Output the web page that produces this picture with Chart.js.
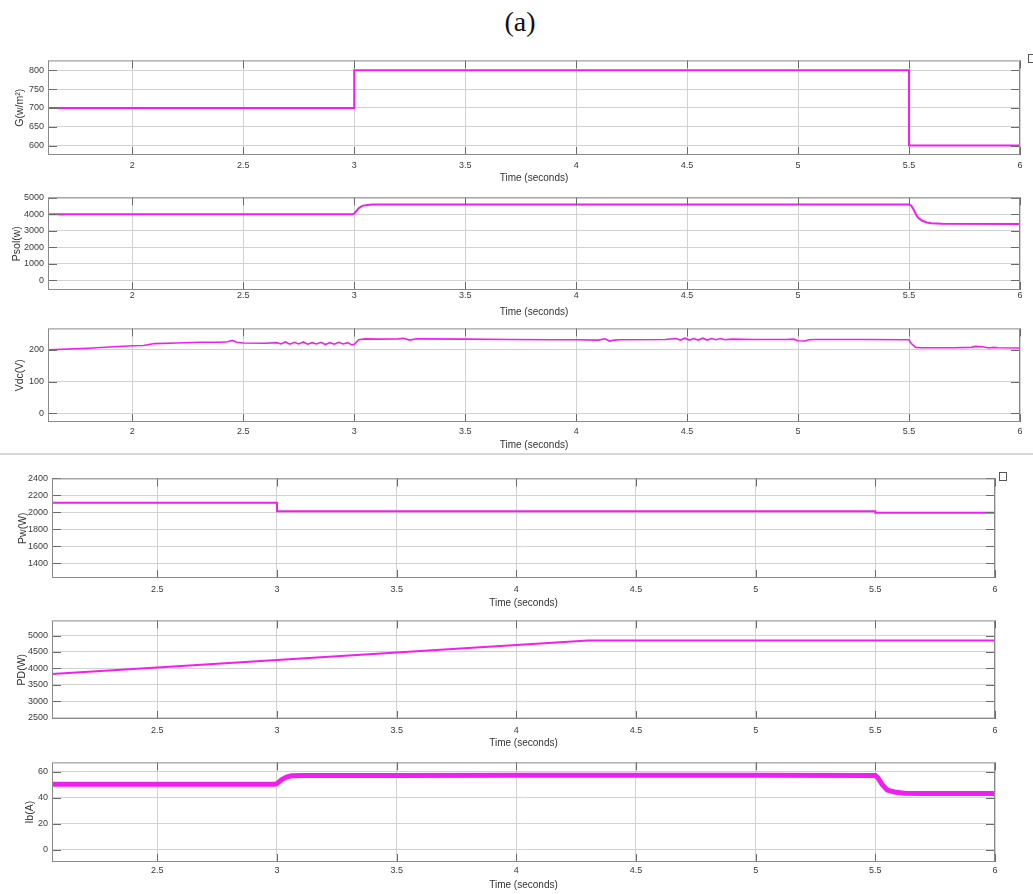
<!DOCTYPE html>
<html>
<head>
<meta charset="utf-8">
<script src="https://cdn.jsdelivr.net/npm/chart.js@4.4.0/dist/chart.umd.min.js"></script>
<style>
body { margin: 0; background: #fff; width: 1033px; height: 894px; overflow: hidden; position: relative; }
.fig-title { position: absolute; left: 0; width: 1040px; top: 6px; text-align: center;
  font-family: "Liberation Serif", "Times New Roman", serif; font-size: 28px; color: #111; }
.sep { position: absolute; left: 0; width: 1033px; top: 453px; height: 2px; background: #d6d6d6; }
.ico { position: absolute; width: 6px; height: 7px; border: 1px solid #555; background: #fff; }
canvas { position: absolute; }
</style>
</head>
<body>
<div class="fig-title">(a)</div>
<div class="sep"></div>
<canvas id="c1"></canvas>
<canvas id="c2"></canvas>
<canvas id="c3"></canvas>
<canvas id="c4"></canvas>
<canvas id="c5"></canvas>
<canvas id="c6"></canvas>
<div class="ico" style="left:1028px;top:54px"></div>
<div class="ico" style="left:999px;top:472px"></div>
<script>
// data (time in seconds)
const gTime = [1.62, 3.0, 3.0, 5.5, 5.5, 6.0];
const gVals = [700, 700, 800, 800, 600, 600];

const psolTime = [1.62, 2.99, 3.0, 3.01, 3.02, 3.03, 3.04, 3.06, 3.08, 3.1, 5.5, 5.51, 5.52, 5.53, 5.54, 5.56, 5.58, 5.6, 5.65, 6.0];
const psolVals = [4000, 4000, 4030, 4200, 4360, 4460, 4520, 4565, 4585, 4595, 4595, 4520, 4300, 4020, 3800, 3600, 3500, 3450, 3420, 3410];

const vdcTime = [1.62, 1.8, 1.9, 2.0, 2.05, 2.1, 2.2, 2.3, 2.4, 2.43, 2.45, 2.47, 2.5, 2.6, 2.65, 2.67, 2.69, 2.71, 2.73, 2.75, 2.77, 2.79, 2.81, 2.83, 2.85, 2.87, 2.89, 2.91, 2.93, 2.95, 2.97, 2.99, 3.0, 3.02, 3.05, 3.1, 3.2, 3.22, 3.25, 3.28, 3.3, 3.5, 3.7, 3.9, 4.0, 4.1, 4.13, 4.15, 4.17, 4.2, 4.4, 4.45, 4.47, 4.49, 4.51, 4.53, 4.55, 4.57, 4.59, 4.61, 4.63, 4.65, 4.67, 4.7, 4.8, 4.95, 4.98, 5.0, 5.03, 5.05, 5.08, 5.1, 5.3, 5.5, 5.51, 5.53, 5.55, 5.7, 5.78, 5.8, 5.83, 5.86, 5.88, 5.9, 6.0];
const vdcVals = [200, 205, 209, 213, 214, 220, 222, 224, 224, 226, 230, 224, 222, 221, 223, 219, 225, 218, 224, 219, 225, 218, 223, 219, 224, 217, 223, 218, 224, 219, 223, 216, 218, 232, 235, 234, 235, 237, 231, 235, 235, 234, 233, 232, 232, 231, 235, 228, 231, 232, 233, 236, 231, 237, 231, 236, 231, 237, 231, 236, 232, 236, 232, 234, 233, 233, 234, 229, 228, 232, 233, 233, 233, 232, 220, 208, 207, 207, 208, 211, 210, 206, 208, 207, 206];

const pwTime = [2.06, 3.0, 3.0, 5.5, 5.5, 6.0];
const pwVals = [2112, 2112, 2012, 2012, 1996, 1996];

const pdTime = [2.06, 2.5, 3.0, 3.5, 4.0, 4.3, 6.0];
const pdVals = [3830, 4030, 4255, 4480, 4710, 4850, 4850];

const ibTime = [2.06, 2.5, 2.99, 3.0, 3.02, 3.04, 3.06, 3.1, 3.5, 4.0, 5.0, 5.5, 5.51, 5.53, 5.55, 5.58, 5.62, 5.7, 6.0];
const ibVals = [50.5, 50.5, 50.5, 51, 54, 56, 57, 57.3, 57.3, 57.5, 57.4, 57.3, 55.5, 50, 46, 44.5, 43.6, 43.3, 43.3];

// tick labels
const timeTicks = [2, 2.5, 3, 3.5, 4, 4.5, 5, 5.5, 6];
const gTicks = [600, 650, 700, 750, 800];
const psolTicks = [0, 1000, 2000, 3000, 4000, 5000];
const vdcTicks = [0, 100, 200];
const pwTicks = [1400, 1600, 1800, 2000, 2200, 2400];
const pdTicks = [2500, 3000, 3500, 4000, 4500, 5000];
const ibTicks = [0, 20, 40, 60];

// per-panel layout: plot box [left, top, right, bottom] in page pixels
const panels = [
  { id: 'c1', t: gTime, v: gVals, x: [1.62, 6], y: [575, 826], yt: gTicks, label: 'G(w/m\u00B2)', box: [48, 59, 1020, 155], ylx: 20, tickY: 166, titleY: 178, lw: 2 },
  { id: 'c2', t: psolTime, v: psolVals, x: [1.62, 6], y: [-600, 5020], yt: psolTicks, label: 'Psol(w)', box: [48, 196, 1020, 290], ylx: 17, tickY: 296, titleY: 312, lw: 2 },
  { id: 'c3', t: vdcTime, v: vdcVals, x: [1.62, 6], y: [-28, 268], yt: vdcTicks, label: 'Vdc(V)', box: [48, 327, 1020, 422], ylx: 20, tickY: 432, titleY: 445, lw: 1.6 },
  { id: 'c4', t: pwTime, v: pwVals, x: [2.06, 6], y: [1226, 2400], yt: pwTicks, label: 'Pw(W)', box: [52, 477, 995, 578], ylx: 23, tickY: 590, titleY: 603, lw: 2 },
  { id: 'c5', t: pdTime, v: pdVals, x: [2.06, 6], y: [2460, 5460], yt: pdTicks, label: 'PD(W)', box: [52, 619, 995, 719], ylx: 22, tickY: 731, titleY: 743, lw: 2 },
  { id: 'c6', t: ibTime, v: ibVals, x: [2.06, 6], y: [-9.4, 67.3], yt: ibTicks, label: 'Ib(A)', box: [52, 761, 995, 862], ylx: 30, tickY: 871, titleY: 885, lw: 5 }
];

// MATLAB style frame with ticks pointing inward
const matlabFrame = {
  id: 'matlabFrame',
  afterDatasetsDraw(chart) {
    const { ctx, chartArea: a, scales: { x, y } } = chart;
    ctx.save();
    ctx.strokeStyle = '#6a6a6a';
    ctx.lineWidth = 1;
    ctx.beginPath();
    x.ticks.forEach(t => {
      const px = Math.round(x.getPixelForValue(t.value)) + 0.5;
      ctx.moveTo(px, a.top); ctx.lineTo(px, a.top + 8);
      ctx.moveTo(px, a.bottom); ctx.lineTo(px, a.bottom - 8);
    });
    y.ticks.forEach(t => {
      const py = Math.round(y.getPixelForValue(t.value)) + 0.5;
      ctx.moveTo(a.left, py); ctx.lineTo(a.left + 9, py);
      ctx.moveTo(a.right, py); ctx.lineTo(a.right - 9, py);
    });
    ctx.stroke();
    ctx.strokeStyle = '#8a8a8a';
    ctx.strokeRect(a.left + 0.5, a.top + 0.5, a.width - 1, a.height - 1);
    ctx.restore();
  }
};

const PAD_TOP = 8, PAD_RIGHT = 10, X_H = 34;
const fam = '"Liberation Sans", Arial, Helvetica, sans-serif';

panels.forEach(p => {
  const [L, T, R, B] = p.box;
  const cv = document.getElementById(p.id);
  cv.width = R + PAD_RIGHT;
  cv.height = PAD_TOP + (B - T) + X_H;
  cv.style.left = '0px';
  cv.style.top = (T - PAD_TOP) + 'px';

  const pts = p.t.map((t, i) => ({ x: t, y: p.v[i] }));

  new Chart(cv.getContext('2d'), {
    type: 'line',
    data: {
      datasets: [{
        data: pts,
        borderColor: '#f01ef0',
        borderWidth: p.lw,
        pointRadius: 0,
        tension: 0,
        fill: false
      }]
    },
    options: {
      responsive: false,
      animation: false,
      events: [],
      layout: { padding: { top: PAD_TOP, right: PAD_RIGHT, left: 0, bottom: 0 } },
      plugins: { legend: { display: false }, tooltip: { enabled: false } },
      scales: {
        x: {
          type: 'linear',
          min: p.x[0],
          max: p.x[1],
          afterBuildTicks: s => { s.ticks = timeTicks.filter(v => v >= p.x[0] && v <= p.x[1]).map(v => ({ value: v })); },
          ticks: {
            callback: v => String(v),
            font: { family: fam, size: 9 },
            color: '#3a3a3a',
            padding: p.tickY - B - 5.4,
            maxRotation: 0,
            autoSkip: false
          },
          grid: { color: '#d2d2d2', drawTicks: false },
          border: { display: false },
          title: {
            display: true,
            text: 'Time (seconds)',
            font: { family: fam, size: 10 },
            color: '#333',
            padding: { top: 0, bottom: B + X_H - p.titleY - 6 }
          },
          afterFit: s => { s.height = X_H; }
        },
        y: {
          type: 'linear',
          min: p.y[0],
          max: p.y[1],
          afterBuildTicks: s => { s.ticks = p.yt.map(v => ({ value: v })); },
          ticks: {
            callback: v => String(v),
            font: { family: fam, size: 9 },
            color: '#3a3a3a',
            padding: 4,
            autoSkip: false
          },
          grid: { color: '#d2d2d2', drawTicks: false },
          border: { display: false },
          title: {
            display: true,
            text: p.label,
            font: { family: fam, size: 10.5 },
            color: '#333',
            padding: { top: p.ylx - 6.3, bottom: 0 }
          },
          afterFit: s => { s.width = L; }
        }
      }
    },
    plugins: [matlabFrame]
  });
});
</script>
</body>
</html>
